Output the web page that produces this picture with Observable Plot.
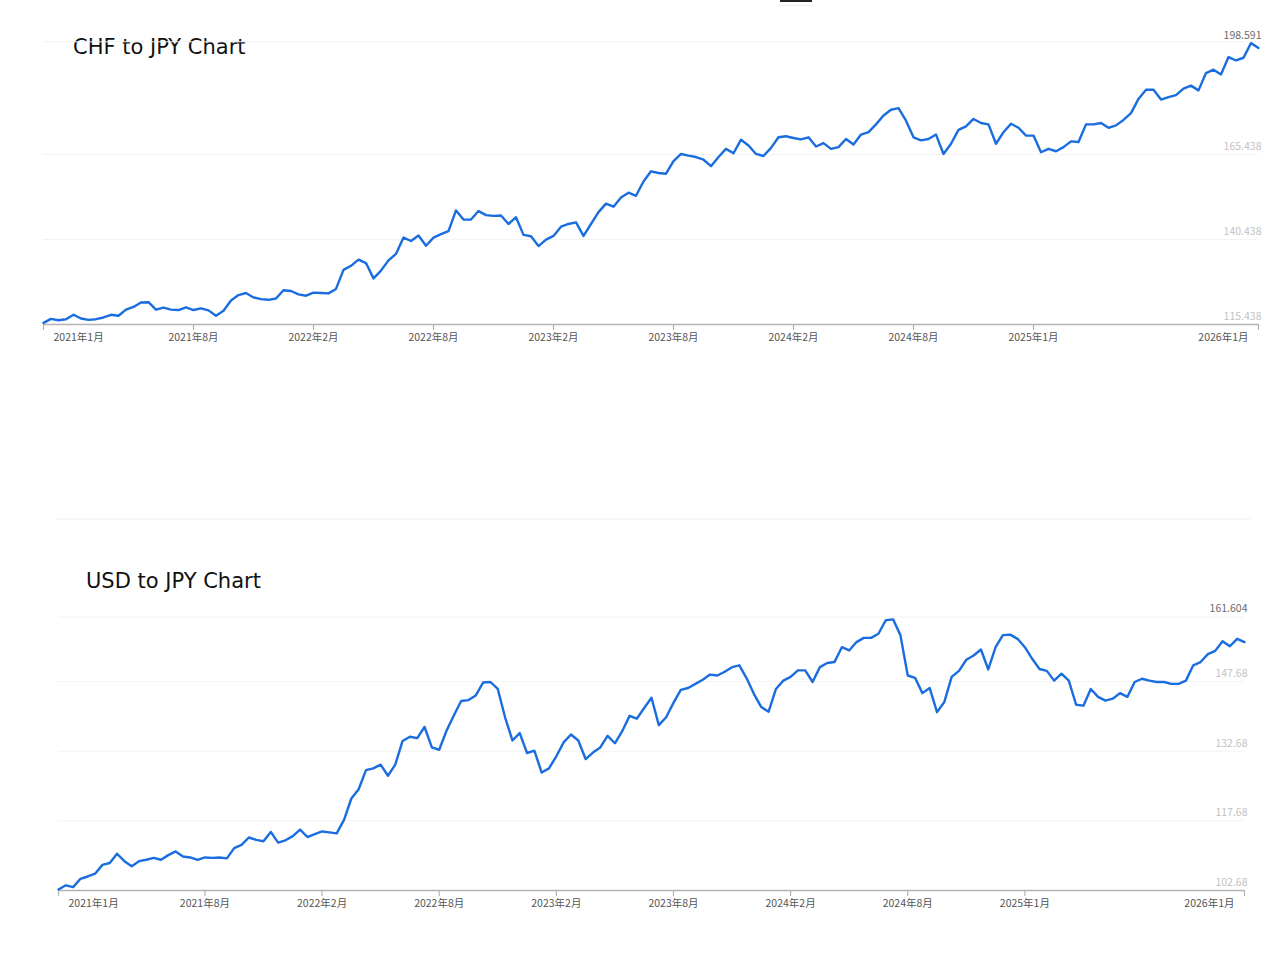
<!DOCTYPE html>
<html>
<head>
<meta charset="utf-8">
<script src="https://cdn.jsdelivr.net/npm/d3@7"></script>
<script src="https://cdn.jsdelivr.net/npm/@observablehq/plot@0.6"></script>
<style>
  html, body { margin: 0; padding: 0; background: #fff; }
  body { width: 1280px; height: 960px; position: relative; overflow: hidden; font-family: "Noto Sans", sans-serif; }
  .title { position: absolute; font-family: "DejaVu Sans", sans-serif; font-size: 21px; line-height: 21px; color: #111; white-space: nowrap; }
  .chart { position: absolute; left: 0; }
  .topbar { position: absolute; left: 780px; top: 0; width: 32px; height: 2px; background: #222; }
  .topbar2 { position: absolute; left: 777px; top: 5px; width: 38px; height: 1px; background: #eee; }
  .sep { position: absolute; left: 55px; top: 518px; width: 1195px; height: 2px; background: #f6f6f6; }
</style>
</head>
<body>
<div class="topbar"></div>
<div class="topbar2"></div>
<div class="title" id="t1" style="left:73px; top:37px;">CHF to JPY Chart</div>
<div id="c1" class="chart" style="top:0px;"></div>
<div class="sep"></div>
<div class="title" id="t2" style="left:86px; top:571px;">USD to JPY Chart</div>
<div id="c2" class="chart" style="top:560px;"></div>
<script>
// ---- data ----
const tickIdx = [0, 20, 36, 52, 68, 84, 100, 116, 132, 162];
const tickLabels = ["2021年1月", "2021年8月", "2022年2月", "2022年8月", "2023年2月", "2023年8月", "2024年2月", "2024年8月", "2025年1月", "2026年1月"];

const chfTicks = [115.438, 140.438, 165.438, 198.591];
const chfTickLabels = ["115.438", "140.438", "165.438", "198.591"];
const usdTicks = [102.68, 117.68, 132.68, 147.68, 161.604];
const usdTickLabels = ["102.68", "117.68", "132.68", "147.68", "161.604"];

const chfValues = [
  115.9, 117.1, 116.7, 117.0, 118.3, 117.2, 116.8, 117.0, 117.5, 118.3,
  118.0, 119.8, 120.6, 121.9, 122.0, 119.8, 120.4, 119.8, 119.7, 120.5,
  119.7, 120.2, 119.6, 118.0, 119.5, 122.5, 124.1, 124.7, 123.4, 122.9,
  122.7, 123.1, 125.5, 125.3, 124.3, 123.9, 124.8, 124.7, 124.6, 125.9,
  131.5, 132.7, 134.5, 133.5, 129.0, 131.3, 134.3, 136.2, 141.0, 140.0,
  141.6, 138.6, 141.0, 142.0, 142.9, 149.0, 146.3, 146.3, 148.8, 147.6,
  147.4, 147.5, 145.0, 147.0, 141.8, 141.4, 138.5, 140.4, 141.5, 144.2,
  145.0, 145.5, 141.5, 145.0, 148.5, 151.0, 150.1, 152.8, 154.2, 153.3,
  157.5, 160.5, 160.0,
  159.8, 163.5, 165.6, 165.1, 164.7, 163.9, 162.0,
  164.7, 167.1, 165.8, 169.8, 168.1, 165.6, 165.0, 167.4, 170.5, 170.8,
  170.3, 169.9, 170.5, 167.8, 168.8, 167.1, 167.6, 170.0, 168.4, 171.3,
  172.0, 174.3, 176.9, 178.6, 179.1, 175.4, 170.5, 169.6, 170.0, 171.3,
  165.6, 168.6, 172.7, 173.7, 175.9, 174.7, 174.3, 168.6, 172.0, 174.5,
  173.3, 171.0, 171.0, 166.1, 167.1, 166.4, 167.6, 169.3, 169.1, 174.3,
  174.3, 174.7, 173.3, 174.0, 175.6, 177.6, 181.8, 184.5, 184.5, 181.6,
  182.3, 182.9, 184.8, 185.7, 184.3, 189.4, 190.4, 189.0, 194.1, 193.1,
  193.9, 198.2, 196.8
];

const usdValues = [
  102.9, 103.8, 103.4, 105.2, 105.7, 106.3, 108.2, 108.6, 110.6, 109.0,
  107.9, 109.0, 109.3, 109.7, 109.3, 110.3, 111.1, 110.0, 109.8, 109.3,
  109.8, 109.7, 109.8, 109.6, 111.8, 112.5, 114.1, 113.6, 113.3, 115.3,
  113.0, 113.5, 114.4, 115.8, 114.2, 114.8, 115.4, 115.2, 115.0, 117.9,
  122.5, 124.5, 128.6, 129.0, 129.8, 127.4, 129.8, 134.9, 135.8, 135.5,
  137.9, 133.5, 133.0, 137.1, 140.4, 143.5, 143.7, 144.7, 147.5, 147.6,
  146.1, 140.0, 135.0, 136.6, 132.3, 132.8, 128.1, 129.0, 131.6, 134.6,
  136.3, 135.0, 131.0, 132.4, 133.5, 136.0, 134.4, 137.0, 140.3, 139.7,
  142.0, 144.2, 138.3, 140.0,
  143.1, 145.9, 146.3, 147.2, 148.1, 149.2,
  149.0, 149.8, 150.8, 151.2, 148.4, 145.0, 142.2, 141.2, 146.1, 147.9,
  148.7, 150.1, 150.1, 147.6, 150.8, 151.7, 151.9, 155.1, 154.4, 156.2,
  157.1, 157.1, 158.0, 160.9, 161.1, 157.7, 149.0, 148.5, 145.2, 146.3,
  141.1, 143.3, 148.7, 150.0, 152.4, 153.3, 154.6, 150.3, 155.1, 157.7,
  157.8, 156.9, 155.1, 152.6, 150.4, 150.0, 147.9, 149.4, 147.9, 142.7,
  142.5, 146.1, 144.4, 143.6, 144.0, 145.2, 144.4, 147.6, 148.3, 147.9,
  147.6, 147.6, 147.2, 147.2, 147.9, 151.2, 151.9, 153.6, 154.3, 156.4,
  155.3, 156.9, 156.2
];

// ---- chart builder ----
function buildChart(opts) {
  const { values, ticks, tickText, height, marginLeft, marginRight, marginTop, marginBottom, topDy } = opts;
  const data = values.map((v, i) => ({ i, v }));
  const lo = ticks[0], hi = ticks[ticks.length - 1];
  const yLab = ticks.map((v, k) => ({ v, label: tickText[k] }));
  const xLab = tickIdx.map((t, k) => ({ t, label: tickLabels[k] }));
  const last = xLab.length - 1;
  const lab = { frameAnchor: "bottom", dy: 16, fill: "#555", fontSize: 10.5 };
  return Plot.plot({
    width: 1280,
    height,
    marginLeft, marginRight, marginTop, marginBottom,
    style: { fontFamily: "'Noto Sans CJK JP', 'Noto Sans', sans-serif", background: "transparent", overflow: "visible" },
    x: { domain: [0, values.length - 1], axis: null },
    y: { domain: [lo, hi], axis: null },
    marks: [
      Plot.ruleY(ticks, { stroke: "#f3f3f3", strokeWidth: 1 }),
      Plot.ruleY([lo], { stroke: "#b3b3b3", strokeWidth: 1.5 }),
      Plot.axisX({ ticks: tickIdx, tickSize: 6, tickFormat: () => "", stroke: "#b3b3b3", strokeWidth: 1.2 }),
      Plot.line(data, { x: "i", y: "v", stroke: "#1a6ddf", strokeWidth: 2.4, strokeLinejoin: "round" }),
      // y labels
      Plot.text(yLab.slice(0, -1), { y: "v", text: "label", frameAnchor: "right", textAnchor: "end", dx: 3, dy: -8, fill: "#c2c2c2", fontSize: 10.5 }),
      Plot.text(yLab.slice(-1), { y: "v", text: "label", frameAnchor: "right", textAnchor: "end", dx: 3, dy: topDy, fill: "#6a6a6a", fontSize: 10.5 }),
      // x labels
      Plot.text(xLab.slice(0, 1), { x: "t", text: "label", textAnchor: "start", dx: 10, ...lab }),
      Plot.text(xLab.slice(1, last), { x: "t", text: "label", textAnchor: "middle", ...lab }),
      Plot.text(xLab.slice(last), { x: "t", text: "label", textAnchor: "end", dx: -10, ...lab })
    ]
  });
}

document.getElementById("c1").appendChild(buildChart({
  values: chfValues, ticks: chfTicks, tickText: chfTickLabels,
  height: 360, marginLeft: 43, marginRight: 22, marginTop: 41.3, marginBottom: 36, topDy: -6
}));
document.getElementById("c2").appendChild(buildChart({
  values: usdValues, ticks: usdTicks, tickText: usdTickLabels,
  height: 370, marginLeft: 58, marginRight: 36, marginTop: 56.5, marginBottom: 40, topDy: -8
}));
</script>
</body>
</html>
